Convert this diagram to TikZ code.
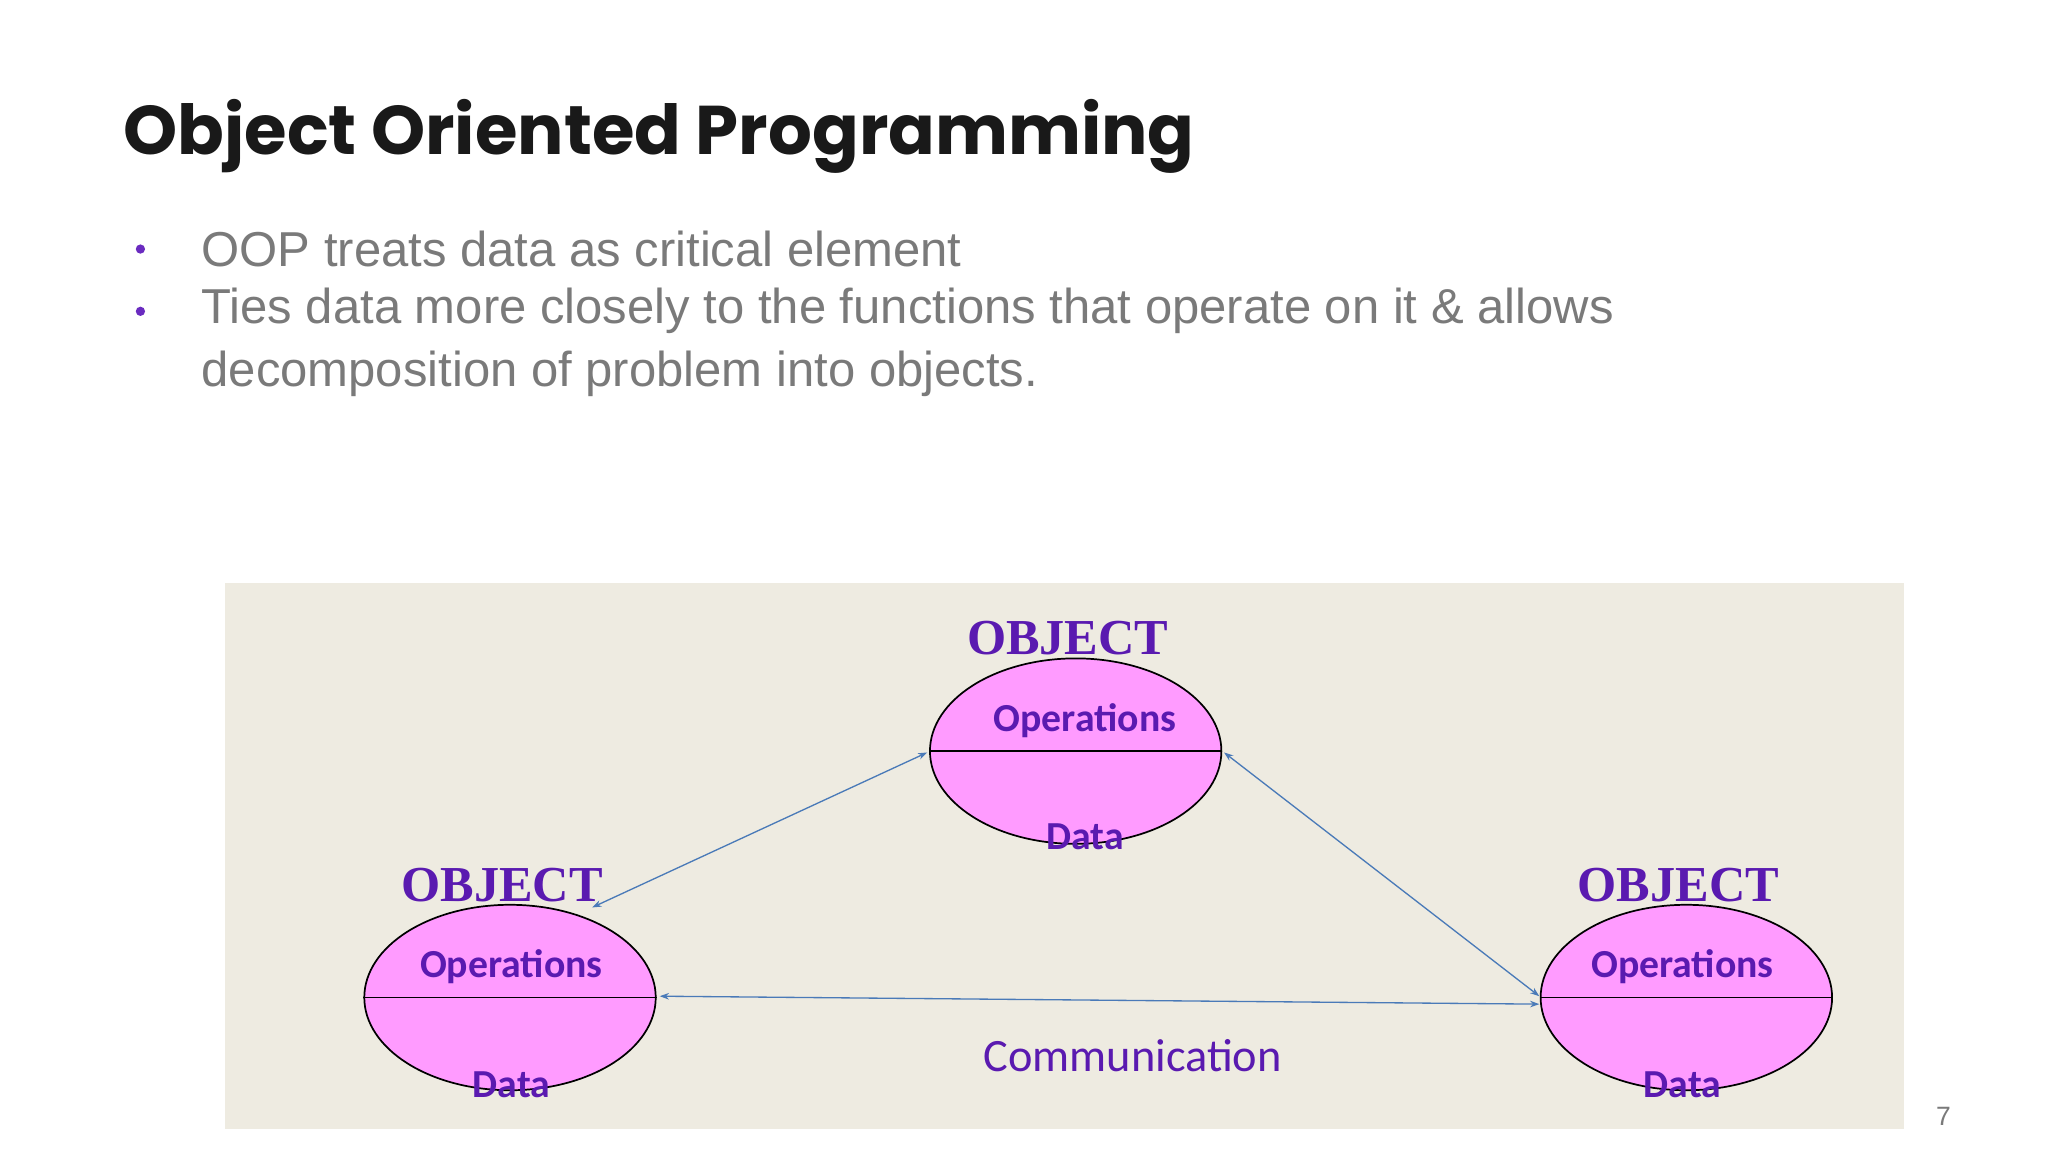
\documentclass[tikz,border=0pt]{standalone}
\usepackage{fontspec}
\setmainfont{Liberation Sans}
\newfontfamily\titlefont{Poppins}
\newfontfamily\carl{Carlito}
\newfontfamily\serifb{Liberation Serif}
\usetikzlibrary{shapes.geometric,arrows.meta}
\definecolor{pur}{HTML}{5A1AB0}
\definecolor{bul}{HTML}{6A2BC0}
\definecolor{txtgrey}{HTML}{7A7A7A}
\definecolor{beige}{HTML}{EEEBE1}
\definecolor{pink}{HTML}{FF9BFF}
\definecolor{conn}{HTML}{4A7AB8}
\tikzset{
 obj/.style={ellipse,draw=black,line width=1.3pt,fill=pink,minimum width=220pt,minimum height=140pt,inner sep=0pt},
 lbl/.style={font=\serifb\bfseries\fontsize{38}{40}\selectfont,text=pur},
 ops/.style={font=\carl\bfseries\fontsize{30}{32}\selectfont,text=pur},
 conarrow/.style={draw=conn,line width=1pt,{Stealth[length=7pt,width=5pt]}-{Stealth[length=7pt,width=5pt]}},
 bullettext/.style={anchor=west,text=txtgrey,font=\fontsize{37}{40}\selectfont,inner sep=0pt},
 dot/.style={circle,fill=bul,inner sep=0pt,minimum size=7pt}
}
\begin{document}
\begin{tikzpicture}[x=1pt,y=-1pt]
\useasboundingbox (0,0) rectangle (1546,870);
\fill[white] (0,0) rectangle (1546,870);
\node[anchor=base west,inner sep=0pt,font=\titlefont\bfseries\fontsize{52}{56}\selectfont,text=black!90] (title) at (93,117) {Object Oriented Programming};
\node[dot] (d1) at (106,188) {};
\node[dot] (d2) at (106,235) {};
\node[bullettext] (b1) at (152,188) {OOP treats data as critical element};
\node[bullettext] (b2) at (152,235) {Ties data more closely to the functions that operate on it \& allows};
\node[bullettext] (b3) at (152,282) {decomposition of problem into objects.};
\fill[beige] (170,440) rectangle (1437,852);
\foreach \n/\x/\y in {top/812/567,left/385/753,right/1273/753}{
  \node[obj] (\n) at (\x,\y) {};
  \draw[line width=1.3pt] (\n.west) -- (\n.east);
}
\node[ops] (topops) at (819,544) {Operations};
\node[ops] (topdata) at (819,632) {Data};
\node[ops] (leftops) at (386,730) {Operations};
\node[ops] (leftdata) at (386,819) {Data};
\node[ops] (rightops) at (1270,730) {Operations};
\node[ops] (rightdata) at (1270,819) {Data};
\node[lbl] (o1) at (806,482) {OBJECT};
\node[lbl] (o2) at (379,668) {OBJECT};
\node[lbl] (o3) at (1267,668) {OBJECT};
\coordinate (a1) at (700,568); \coordinate (a2) at (447,685);
\coordinate (a3) at (924,568); \coordinate (a4) at (1162,752);
\coordinate (a5) at (498,752); \coordinate (a6) at (1162,758);
\draw[conarrow] (a1) -- (a2);
\draw[conarrow] (a3) -- (a4);
\draw[conarrow] (a5) -- (a6);
\node[font=\carl\fontsize{35}{38}\selectfont,text=pur] (comm) at (855,797) {Communication};
\node[text=txtgrey,font=\fontsize{20}{22}\selectfont] (pg) at (1467,843) {7};
\end{tikzpicture}
\end{document}
